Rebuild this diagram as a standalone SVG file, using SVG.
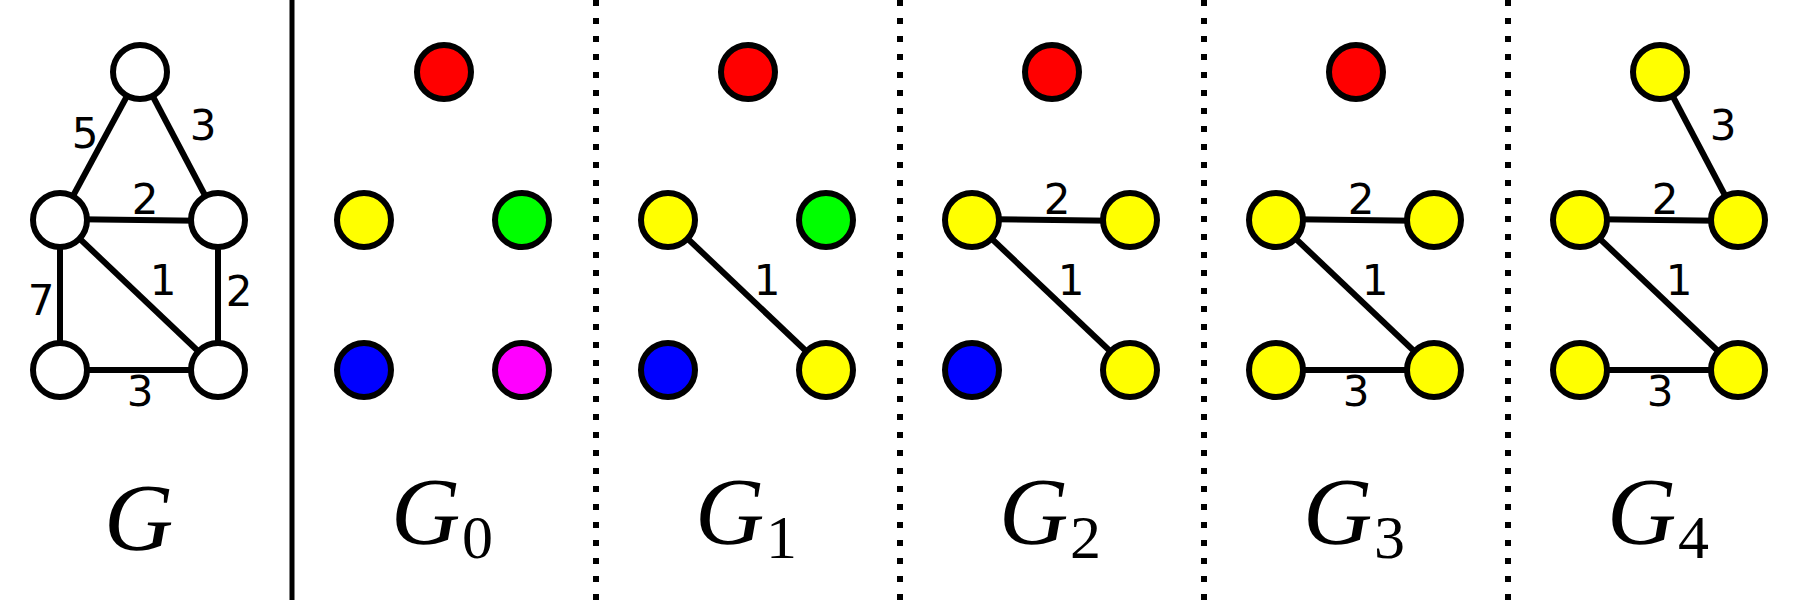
<svg xmlns="http://www.w3.org/2000/svg" width="1800" height="600" viewBox="0 0 1800 600">
<style>
.n{stroke:#000;stroke-width:6}
.w{fill:#fff}.r{fill:#ff0000}.y{fill:#ffff00}.g{fill:#00ff00}.b{fill:#0000ff}.m{fill:#ff00ff}
.e{stroke:#000;stroke-width:6;fill:none}
.sep{stroke:#000;stroke-width:5}
.dot{stroke:#000;stroke-width:6;stroke-dasharray:6 12}
.lbl{font-family:"DejaVu Sans",sans-serif;font-size:42px;text-anchor:middle}
.math{font-family:"Liberation Serif",serif;font-style:italic;font-size:96px}
.sub{font-family:"Liberation Serif",serif;font-size:62px}
</style>
<rect width="1800" height="600" fill="#fff"/>
<g id="separators">
<line class="sep" x1="292" y1="0" x2="292" y2="600"/>
<line class="dot" x1="596" y1="0" x2="596" y2="600"/>
<line class="dot" x1="900" y1="0" x2="900" y2="600"/>
<line class="dot" x1="1204" y1="0" x2="1204" y2="600"/>
<line class="dot" x1="1508" y1="0" x2="1508" y2="600"/>
</g>
<g id="connectors">
<line class="e" x1="140" y1="72" x2="60" y2="220"/>
<line class="e" x1="140" y1="72" x2="218" y2="220"/>
<line class="e" x1="60" y1="219" x2="218" y2="221"/>
<line class="e" x1="60" y1="220" x2="218" y2="370"/>
<line class="e" x1="60" y1="220" x2="60" y2="370"/>
<line class="e" x1="218" y1="220" x2="218" y2="370"/>
<line class="e" x1="60" y1="370" x2="218" y2="370"/>
<line class="e" x1="668" y1="220" x2="826" y2="370"/>
<line class="e" x1="972" y1="219" x2="1130" y2="221"/>
<line class="e" x1="972" y1="220" x2="1130" y2="370"/>
<line class="e" x1="1276" y1="219" x2="1434" y2="221"/>
<line class="e" x1="1276" y1="220" x2="1434" y2="370"/>
<line class="e" x1="1276" y1="370" x2="1434" y2="370"/>
<line class="e" x1="1660" y1="72" x2="1738" y2="220"/>
<line class="e" x1="1580" y1="219" x2="1738" y2="221"/>
<line class="e" x1="1580" y1="220" x2="1738" y2="370"/>
<line class="e" x1="1580" y1="370" x2="1738" y2="370"/>
</g>
<g id="edge-labels">
<text class="lbl" x="85" y="148">5</text>
<text class="lbl" x="203" y="140">3</text>
<text class="lbl" x="145" y="214">2</text>
<text class="lbl" x="163" y="295">1</text>
<text class="lbl" x="239" y="306">2</text>
<text class="lbl" x="41" y="315">7</text>
<text class="lbl" x="140" y="406">3</text>
<text class="lbl" x="767" y="295">1</text>
<text class="lbl" x="1057" y="214">2</text>
<text class="lbl" x="1071" y="295">1</text>
<text class="lbl" x="1361" y="214">2</text>
<text class="lbl" x="1375" y="295">1</text>
<text class="lbl" x="1356" y="406">3</text>
<text class="lbl" x="1723" y="140">3</text>
<text class="lbl" x="1665" y="214">2</text>
<text class="lbl" x="1679" y="295">1</text>
<text class="lbl" x="1660" y="406">3</text>
</g>
<g id="G">
<g id="G-t"><circle class="n w" cx="140" cy="72" r="27"/></g>
<g id="G-ml"><circle class="n w" cx="60" cy="220" r="27"/></g>
<g id="G-mr"><circle class="n w" cx="218" cy="220" r="27"/></g>
<g id="G-bl"><circle class="n w" cx="60" cy="370" r="27"/></g>
<g id="G-br"><circle class="n w" cx="218" cy="370" r="27"/></g>
<text class="math" x="104" y="550">G</text>
</g>
<g id="G0">
<g id="G0-t"><circle class="n r" cx="444" cy="72" r="27"/></g>
<g id="G0-ml"><circle class="n y" cx="364" cy="220" r="27"/></g>
<g id="G0-mr"><circle class="n g" cx="522" cy="220" r="27"/></g>
<g id="G0-bl"><circle class="n b" cx="364" cy="370" r="27"/></g>
<g id="G0-br"><circle class="n m" cx="522" cy="370" r="27"/></g>
<text class="math" x="391" y="544">G</text><text class="sub" x="462" y="558">0</text>
</g>
<g id="G1">
<g id="G1-t"><circle class="n r" cx="748" cy="72" r="27"/></g>
<g id="G1-ml"><circle class="n y" cx="668" cy="220" r="27"/></g>
<g id="G1-mr"><circle class="n g" cx="826" cy="220" r="27"/></g>
<g id="G1-bl"><circle class="n b" cx="668" cy="370" r="27"/></g>
<g id="G1-br"><circle class="n y" cx="826" cy="370" r="27"/></g>
<text class="math" x="695" y="544">G</text><text class="sub" x="766" y="558">1</text>
</g>
<g id="G2">
<g id="G2-t"><circle class="n r" cx="1052" cy="72" r="27"/></g>
<g id="G2-ml"><circle class="n y" cx="972" cy="220" r="27"/></g>
<g id="G2-mr"><circle class="n y" cx="1130" cy="220" r="27"/></g>
<g id="G2-bl"><circle class="n b" cx="972" cy="370" r="27"/></g>
<g id="G2-br"><circle class="n y" cx="1130" cy="370" r="27"/></g>
<text class="math" x="999" y="544">G</text><text class="sub" x="1070" y="558">2</text>
</g>
<g id="G3">
<g id="G3-t"><circle class="n r" cx="1356" cy="72" r="27"/></g>
<g id="G3-ml"><circle class="n y" cx="1276" cy="220" r="27"/></g>
<g id="G3-mr"><circle class="n y" cx="1434" cy="220" r="27"/></g>
<g id="G3-bl"><circle class="n y" cx="1276" cy="370" r="27"/></g>
<g id="G3-br"><circle class="n y" cx="1434" cy="370" r="27"/></g>
<text class="math" x="1303" y="544">G</text><text class="sub" x="1374" y="558">3</text>
</g>
<g id="G4">
<g id="G4-t"><circle class="n y" cx="1660" cy="72" r="27"/></g>
<g id="G4-ml"><circle class="n y" cx="1580" cy="220" r="27"/></g>
<g id="G4-mr"><circle class="n y" cx="1738" cy="220" r="27"/></g>
<g id="G4-bl"><circle class="n y" cx="1580" cy="370" r="27"/></g>
<g id="G4-br"><circle class="n y" cx="1738" cy="370" r="27"/></g>
<text class="math" x="1607" y="544">G</text><text class="sub" x="1678" y="558">4</text>
</g>
</svg>
